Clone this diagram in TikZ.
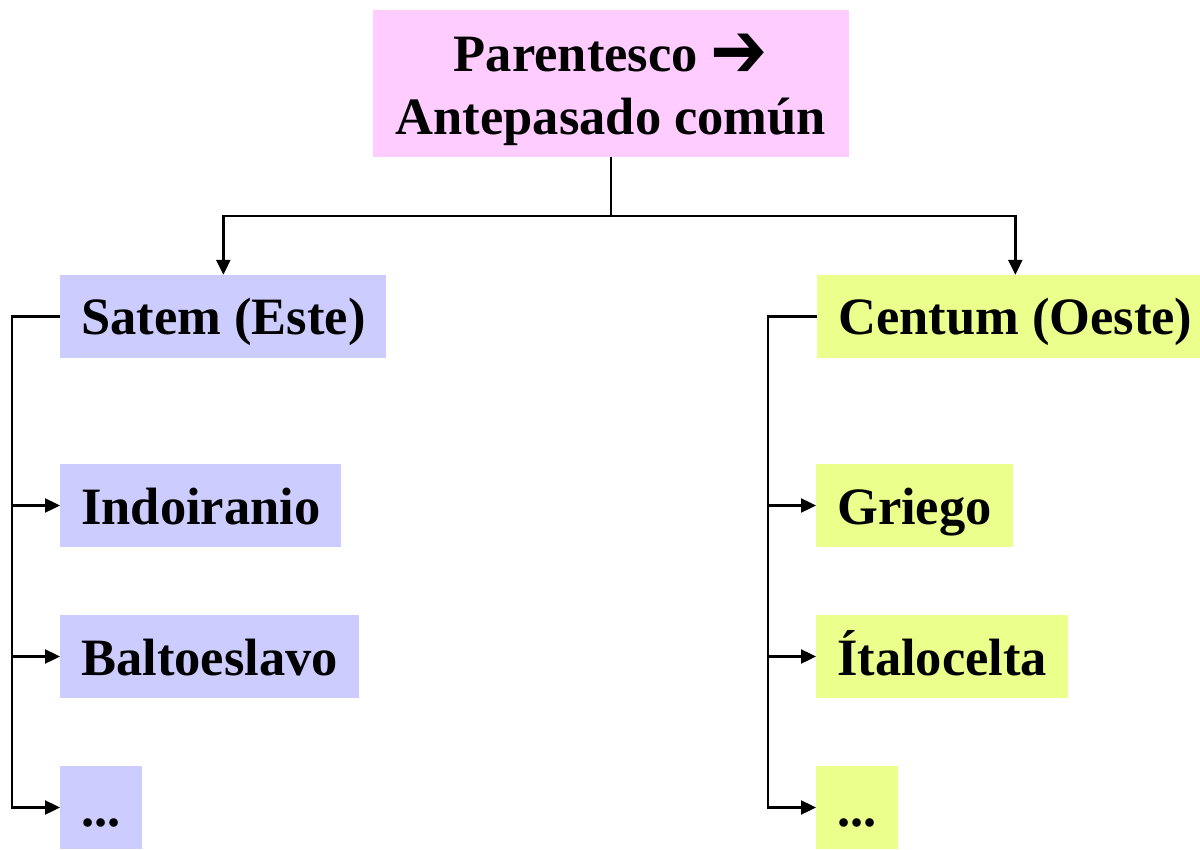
\documentclass[tikz,border=0pt]{standalone}
\usepackage{fontspec}
\usepackage{graphicx}
\setmainfont{Liberation Serif}
\newfontfamily\arrowfont{DejaVu Sans}
\usetikzlibrary{arrows.meta}
\definecolor{pinkbox}{HTML}{FFCCFF}
\definecolor{bluebox}{HTML}{CCCCFF}
\definecolor{limebox}{HTML}{EBFF8C}
\begin{document}
\begin{tikzpicture}[x=1pt,y=-1pt,
  leaf/.style={rectangle, inner xsep=21pt, inner ysep=0pt, minimum height=83pt,
    text height=37pt, text depth=0pt, anchor=west,
    font=\fontsize{52.5}{63}\selectfont\bfseries},
  satemleaf/.style={leaf, fill=bluebox},
  centumleaf/.style={leaf, fill=limebox},
  conn/.style={line width=2.4pt},
  arr/.style={conn, -{Triangle[length=15pt,width=14pt]}}]
\clip (0,0) rectangle (1200,850);
\node[fill=pinkbox, inner sep=0pt, minimum width=476pt, minimum height=147pt] (top) at (611,83.5)
  {\parbox[c][147pt][t]{476pt}{\centering\fontsize{52.5}{63}\selectfont\bfseries\rule{0pt}{62pt}Parentesco \raisebox{-6pt}{\scalebox{1.3}[1.5]{\arrowfont\bfseries ➔}}\\Antepasado común}};
\node[satemleaf] (satem) at (60,316.5) {Satem (Este)};
\node[satemleaf] (indo) at (60,505.5) {Indoiranio};
\node[satemleaf] (balto) at (60,656.5) {Baltoeslavo};
\node[satemleaf] (dotsl) at (60,807.5) {...};
\node[centumleaf] (centum) at (817,316.5) {Centum (Oeste)};
\node[centumleaf] (griego) at (816,505.5) {Griego};
\node[centumleaf] (italo) at (816,656.5) {Ítalocelta};
\node[centumleaf] (dotsr) at (816,807.5) {...};
\coordinate (split) at (611,216);
\coordinate (lbus) at (12,316.5);
\coordinate (rbus) at (768,316.5);
\draw[conn] (top.south) -- (split);
\draw[arr] (split) -| (satem.north);
\draw[arr] (split) -| (centum.north);
\draw[arr] (satem.west) -- (lbus) |- (dotsl.west);
\draw[arr] (lbus) |- (indo.west);
\draw[arr] (lbus) |- (balto.west);
\draw[arr] (centum.west) -- (rbus) |- (dotsr.west);
\draw[arr] (rbus) |- (griego.west);
\draw[arr] (rbus) |- (italo.west);
\end{tikzpicture}
\end{document}
